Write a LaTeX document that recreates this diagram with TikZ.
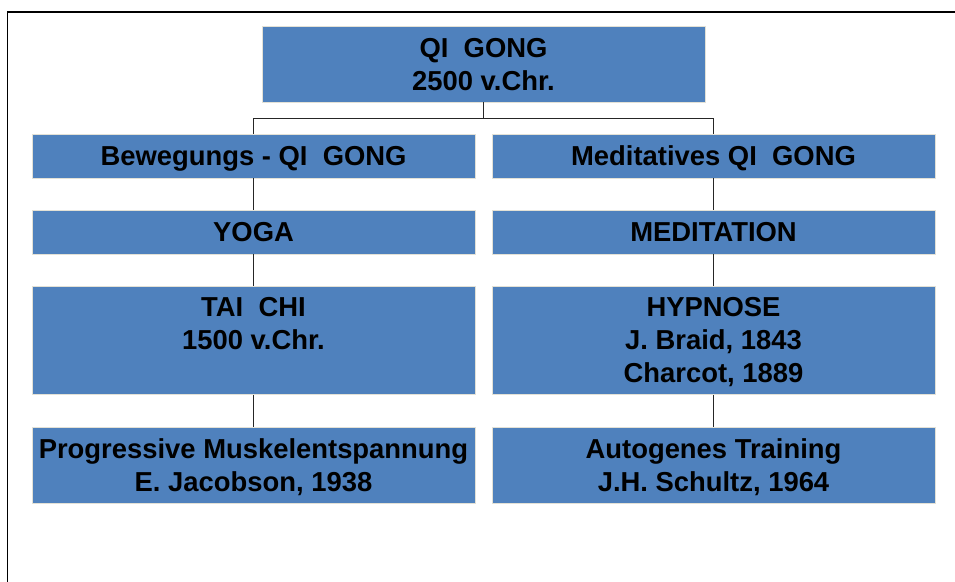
\documentclass[tikz,border=0pt]{standalone}
\usepackage{fontspec}
\setmainfont{Liberation Sans}
\definecolor{boxblue}{HTML}{4F81BD}
\definecolor{boxedge}{HTML}{E3E1D6}
\begin{document}
\begin{tikzpicture}[x=1pt,y=-1pt,
  box/.style={draw=boxedge,line width=0.8pt,fill=boxblue,inner sep=0pt,align=center,
    text depth=0pt,font=\bfseries\fontsize{27.4}{33}\selectfont},
  colbox/.style={box,minimum width=443pt},
  link/.style={draw=black!85,line width=1pt}]
\useasboundingbox (0,0) rectangle (955,581);
\clip (0,0) rectangle (955,581);
\fill[white] (0,0) rectangle (955,581);
\draw[line width=1.4pt] (7.5,600) -- (7.5,12) -- (975,12);

\node[colbox,minimum height=76pt] (qi) at (483.5,64) {QI\ \ GONG\\2500 v.Chr.};

\node[colbox,minimum height=44pt] (bew) at (253.5,156) {Bewegungs - QI\ \ GONG};
\node[colbox,minimum height=44pt] (med) at (713.5,156) {Meditatives QI\ \ GONG};

\node[colbox,minimum height=44pt] (yoga) at (253.5,232) {YOGA};
\node[colbox,minimum height=44pt] (medi) at (713.5,232) {MEDITATION};

\node[colbox,minimum height=108.5pt] (tai) at (253.5,340.25) {TAI\ \ CHI\\1500 v.Chr.\\\mbox{}};
\node[colbox,minimum height=108.5pt] (hyp) at (713.5,340.25) {HYPNOSE\\J. Braid, 1843\\Charcot, 1889};

\node[colbox,minimum height=76pt] (pm) at (253.5,465) {Progressive Muskelentspannung\\E. Jacobson, 1938};
\node[colbox,minimum height=76pt] (at) at (713.5,465) {Autogenes Training\\J.H. Schultz, 1964};

\coordinate (fork) at (483.5,118);
\draw[link] (qi.south) -- (fork);
\draw[link] (fork) -| (bew.north);
\draw[link] (fork) -| (med.north);
\draw[link] (bew.south) -- (yoga.north);
\draw[link] (med.south) -- (medi.north);
\draw[link] (yoga.south) -- (tai.north);
\draw[link] (medi.south) -- (hyp.north);
\draw[link] (tai.south) -- (pm.north);
\draw[link] (hyp.south) -- (at.north);
\end{tikzpicture}
\end{document}
